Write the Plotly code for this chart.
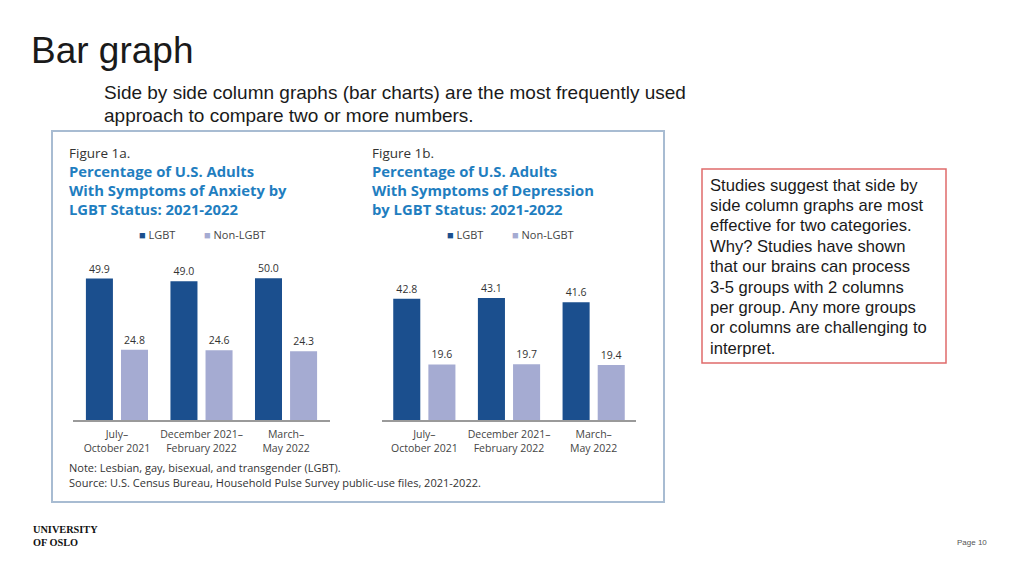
import plotly.graph_objects as go

# ---- data ----
periods = ["July–<br>October 2021", "December 2021–<br>February 2022", "March–<br>May 2022"]
anxiety_lgbt = [49.9, 49.0, 50.0]
anxiety_non = [24.8, 24.6, 24.3]
depression_lgbt = [42.8, 43.1, 41.6]
depression_non = [19.6, 19.7, 19.4]
series_names = ["LGBT", "Non-LGBT"]

W, H = 1024, 576
def px(x): return x / W
def py(y): return 1 - y / H

C_LGBT = "#1b4f8e"
C_NON = "#a5abd2"
C_TITLE = "#1f7ec0"
FONT = "Open Sans, Lato, sans-serif"
ARIAL = "Liberation Sans, Arial, sans-serif"

fig = go.Figure()

cats = list(range(len(periods)))
for (vals_l, vals_n, xa, ya) in [
    (anxiety_lgbt, anxiety_non, "x", "y"),
    (depression_lgbt, depression_non, "x2", "y2"),
]:
    for name, vals, col in [(series_names[0], vals_l, C_LGBT), (series_names[1], vals_n, C_NON)]:
        fig.add_trace(go.Bar(
            x=cats, y=vals, name=name, marker=dict(color=col, line=dict(width=0)),
            text=[f"{v:.1f}" for v in vals], textposition="outside",
            textfont=dict(size=10.5, color="#333", family=FONT),
            cliponaxis=False, xaxis=xa, yaxis=ya, showlegend=False,
        ))

axis_common = dict(showgrid=False, zeroline=False)
fig.update_layout(
    width=W, height=H, margin=dict(l=0, r=0, t=0, b=0),
    paper_bgcolor="white", plot_bgcolor="white",
    barmode="group", bargap=0.17, bargroupgap=0.23,
    xaxis=dict(domain=[px(73), px(330)], range=[-0.52, 2.52], tickvals=cats, ticktext=periods,
               showline=True, linecolor="#9a9a9a", linewidth=1.5, ticks="", ticklabelstandoff=4,
               tickfont=dict(size=10.5, color="#444", family=FONT), anchor="y", **axis_common),
    yaxis=dict(domain=[py(420), py(250)], range=[0, 60], visible=False, anchor="x", **axis_common),
    xaxis2=dict(domain=[px(382), px(636)], range=[-0.5, 2.5], tickvals=cats, ticktext=periods,
                showline=True, linecolor="#9a9a9a", linewidth=1.5, ticks="", ticklabelstandoff=4,
                tickfont=dict(size=10.5, color="#444", family=FONT), anchor="y2", **axis_common),
    yaxis2=dict(domain=[py(420), py(250)], range=[0, 60], visible=False, anchor="x2", **axis_common),
)

shapes = [
    dict(type="rect", xref="paper", yref="paper", x0=px(52), x1=px(664), y0=py(502), y1=py(131),
         line=dict(color="#a8bcd2", width=2), fillcolor="rgba(0,0,0,0)", layer="below"),
    dict(type="rect", xref="paper", yref="paper", x0=px(702), x1=px(946), y0=py(363), y1=py(169),
         line=dict(color="#e06b6b", width=1.5), fillcolor="white"),
]
fig.update_layout(shapes=shapes)

ann = []
def A(text, x, y, size, color="#222", family=FONT, xanchor="left", yanchor="middle", align="left", pad=1):
    ann.append(dict(text=text, x=px(x), y=py(y), xref="paper", yref="paper", showarrow=False,
                    xanchor=xanchor, yanchor=yanchor, align=align, borderpad=pad,
                    font=dict(size=size, color=color, family=family)))

def lines(texts, x, y0, dy, size, **kw):
    for i, t in enumerate(texts):
        A(t, x, y0 + i * dy, size, **kw)

A("Bar graph", 29, 50, 37, color="#1a1a1a", family=ARIAL)
lines(["Side by side column graphs (bar charts) are the most frequently used",
       "approach to compare two or more numbers."], 102, 92, 23, 19, color="#1a1a1a", family=ARIAL)

A("Figure 1a.", 68, 153, 13.5, color="#333", pad=0)
A("<b>Percentage of U.S. Adults<br>With Symptoms of Anxiety by<br>LGBT Status: 2021-2022</b>",
  68, 160.5, 14.8, color=C_TITLE, yanchor="top", pad=0)
A("Figure 1b.", 371, 153, 13.5, color="#333", pad=0)
A("<b>Percentage of U.S. Adults<br>With Symptoms of Depression<br>by LGBT Status: 2021-2022</b>",
  371, 160.5, 14.8, color=C_TITLE, yanchor="top", pad=0)

# legends
for lx, sx in [(137, 202), (445, 510)]:
    A(f"<span style='color:{C_LGBT}'>■</span> {series_names[0]}", lx, 234, 11, color="#444")
    A(f"<span style='color:{C_NON}'>■</span> {series_names[1]}", sx, 234, 11, color="#444")

lines(["Note: Lesbian, gay, bisexual, and transgender (LGBT).",
       "Source: U.S. Census Bureau, Household Pulse Survey public-use files, 2021-2022."],
      68, 467, 15, 11, color="#333", pad=0)

lines(["Studies suggest that side by", "side column graphs are most",
       "effective for two categories.", "Why? Studies have shown",
       "that our brains can process", "3-5 groups with 2 columns",
       "per group. Any more groups", "or columns are challenging to", "interpret."],
      709, 185, 20.4, 16.6, color="#1a1a1a", family=ARIAL, pad=0)

A("<b>UNIVERSITY<br>OF OSLO</b>", 31, 536, 10.3, color="#111", family="Liberation Serif, Times New Roman, serif")
A("Page 10", 989, 542, 8, color="#555", family=ARIAL, xanchor="right")

fig.update_layout(annotations=ann)

fig.write_html("out.html", config={"displayModeBar": False},
               post_script="document.body.style.margin='0';document.body.style.padding='0';")
